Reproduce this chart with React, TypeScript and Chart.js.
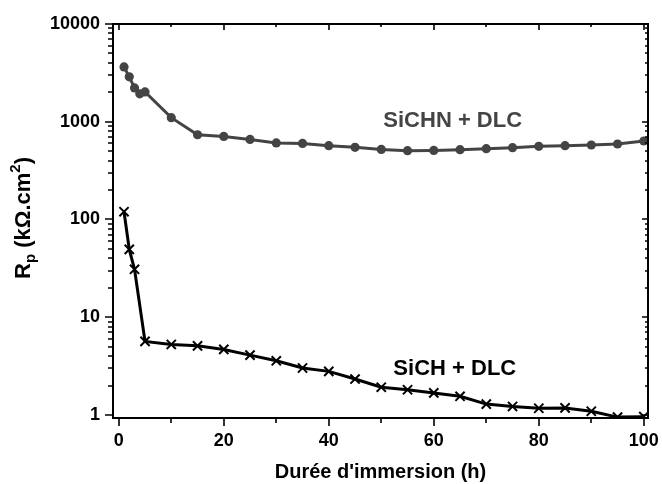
import React, { useEffect, useRef } from "react";
import { Chart, registerables } from "chart.js";

Chart.register(...registerables);

// ---- data ----
const hoursSiCHN = [1, 2, 3, 4, 5, 10, 15, 20, 25, 30, 35, 40, 45, 50, 55, 60, 65, 70, 75, 80, 85, 90, 95, 100];
const rpSiCHN = [3640, 2880, 2220, 1930, 2020, 1100, 736, 708, 659, 607, 600, 569, 547, 521, 506, 509, 518, 530, 543, 560, 569, 578, 592, 635];

const hoursSiCH = [1, 2, 3, 5, 10, 15, 20, 25, 30, 35, 40, 45, 50, 55, 60, 65, 70, 75, 80, 85, 90, 95, 100];
const rpSiCH = [120, 49.4, 30.9, 5.65, 5.26, 5.09, 4.68, 4.09, 3.58, 3.02, 2.79, 2.33, 1.92, 1.81, 1.68, 1.55, 1.29, 1.22, 1.17, 1.18, 1.09, 0.95, 0.96];

const xMajorTicks = [0, 20, 40, 60, 80, 100];
const xMinorTicks = [10, 30, 50, 70, 90];
const yMajorTicks = [1, 10, 100, 1000, 10000];
const yMinorMultipliers = [2, 3, 4, 5, 6, 7, 8, 9];

const seriesLabels = ["SiCHN + DLC", "SiCH + DLC"];
const labelPositions = [
  { x: 63.6, y: 889 },
  { x: 64, y: 2.56 },
];
const xTitle = "Durée d'immersion (h)";

const FONT = '"Liberation Sans", Arial, Helvetica, sans-serif';
const GRAY = "#444444";

const decorPlugin = {
  id: "decor",
  afterDraw(chart: any) {
    const { ctx, chartArea } = chart;
    const xs = chart.scales.x;
    const ys = chart.scales.y;
    const { left, right, top, bottom } = chartArea;
    ctx.save();
    ctx.strokeStyle = "#000";
    ctx.lineWidth = 2;
    ctx.strokeRect(left, top, right - left, bottom - top);

    ctx.lineWidth = 1.6;
    ctx.beginPath();
    const xt = (v: number, outLen: number, inLen: number) => {
      const px = Math.round(xs.getPixelForValue(v));
      ctx.moveTo(px, bottom);
      ctx.lineTo(px, bottom + outLen);
      ctx.moveTo(px, top);
      ctx.lineTo(px, top + inLen);
    };
    xMajorTicks.forEach((v) => xt(v, 8, 6));
    xMinorTicks.forEach((v) => xt(v, 5, 3));
    const yt = (v: number, outLen: number, inLen: number) => {
      if (v < ys.min || v > ys.max) return;
      const py = Math.round(ys.getPixelForValue(v));
      ctx.moveTo(left, py);
      ctx.lineTo(left - outLen, py);
      ctx.moveTo(right, py);
      ctx.lineTo(right - inLen, py);
    };
    yMajorTicks.forEach((v) => {
      yt(v, 8, 6);
      if (v < 10000) yMinorMultipliers.forEach((m) => yt(v * m, 5, 3));
    });
    ctx.stroke();

    // x title
    ctx.fillStyle = "#000";
    ctx.font = `bold 20px ${FONT}`;
    ctx.textAlign = "center";
    ctx.textBaseline = "alphabetic";
    ctx.fillText(xTitle, (left + right) / 2, 478);

    // y title with sub/superscript
    const pieces = [
      { t: "R", s: 22, dy: 0 },
      { t: "p", s: 15, dy: 5 },
      { t: " (k\u03A9.cm", s: 22, dy: 0 },
      { t: "2", s: 15, dy: -10 },
      { t: ")", s: 22, dy: 0 },
    ];
    let total = 0;
    const widths = pieces.map((p) => {
      ctx.font = `bold ${p.s}px ${FONT}`;
      const w = ctx.measureText(p.t).width;
      total += w;
      return w;
    });
    ctx.translate(30, 218);
    ctx.rotate(-Math.PI / 2);
    ctx.textAlign = "left";
    let cx = -total / 2;
    pieces.forEach((p, i) => {
      ctx.font = `bold ${p.s}px ${FONT}`;
      ctx.fillText(p.t, cx, p.dy);
      cx += widths[i];
    });
    ctx.setTransform(1, 0, 0, 1, 0, 0);

    // series labels
    ctx.font = `bold 22px ${FONT}`;
    ctx.textAlign = "center";
    seriesLabels.forEach((lab, i) => {
      ctx.fillStyle = i === 0 ? GRAY : "#000";
      const pos = labelPositions[i];
      ctx.fillText(lab, xs.getPixelForValue(pos.x), ys.getPixelForValue(pos.y));
    });
    ctx.restore();
  },
};

export default function App() {
  const ref = useRef<HTMLCanvasElement>(null);
  useEffect(() => {
    if (!ref.current) return;
    const chart = new Chart(ref.current, {
      type: "line",
      data: {
        datasets: [
          {
            label: seriesLabels[0],
            data: hoursSiCHN.map((h, i) => ({ x: h, y: rpSiCHN[i] })),
            borderColor: GRAY,
            backgroundColor: GRAY,
            borderWidth: 3,
            pointStyle: "circle",
            pointRadius: 4.6,
            pointBorderWidth: 0,
            pointBackgroundColor: GRAY,
            tension: 0,
          },
          {
            label: seriesLabels[1],
            data: hoursSiCH.map((h, i) => ({ x: h, y: rpSiCH[i] })),
            borderColor: "#000",
            backgroundColor: "#000",
            borderWidth: 3,
            pointStyle: "crossRot",
            pointRadius: 6.5,
            pointBorderWidth: 2,
            pointBorderColor: "#000",
            tension: 0,
          },
        ],
      },
      options: {
        animation: false,
        responsive: false,
        devicePixelRatio: 1,
        layout: { padding: { top: 24, right: 14, left: 0, bottom: 0 } },
        plugins: { legend: { display: false }, tooltip: { enabled: false }, title: { display: false } },
        scales: {
          x: {
            type: "linear",
            min: -1.1,
            max: 100.8,
            afterFit: (s: any) => {
              s.height = 66;
              s.paddingLeft = 0;
              s.paddingRight = 0;
            },
            afterBuildTicks: (s: any) => {
              s.ticks = xMajorTicks.map((v) => ({ value: v }));
            },
            grid: { display: false, drawTicks: false },
            border: { display: false },
            ticks: {
              autoSkip: false,
              maxRotation: 0,
              padding: 12,
              color: "#000",
              font: { family: FONT, size: 18, weight: "bold" },
            },
          },
          y: {
            type: "logarithmic",
            min: 0.93,
            max: 10000,
            afterFit: (s: any) => {
              s.width = 113;
              s.paddingTop = 0;
              s.paddingBottom = 0;
            },
            afterBuildTicks: (s: any) => {
              s.ticks = yMajorTicks.map((v) => ({ value: v }));
            },
            grid: { display: false, drawTicks: false },
            border: { display: false },
            ticks: {
              autoSkip: false,
              padding: 13,
              color: "#000",
              font: { family: FONT, size: 18, weight: "bold" },
              callback: (v: any) => String(v),
            },
          },
        },
      },
      plugins: [decorPlugin],
    });
    return () => chart.destroy();
  }, []);
  return (
    <div style={{ position: "fixed", left: 0, top: 0, width: 662, height: 484, background: "#fff" }}>
      <canvas ref={ref} width={662} height={484} style={{ display: "block" }} />
    </div>
  );
}
